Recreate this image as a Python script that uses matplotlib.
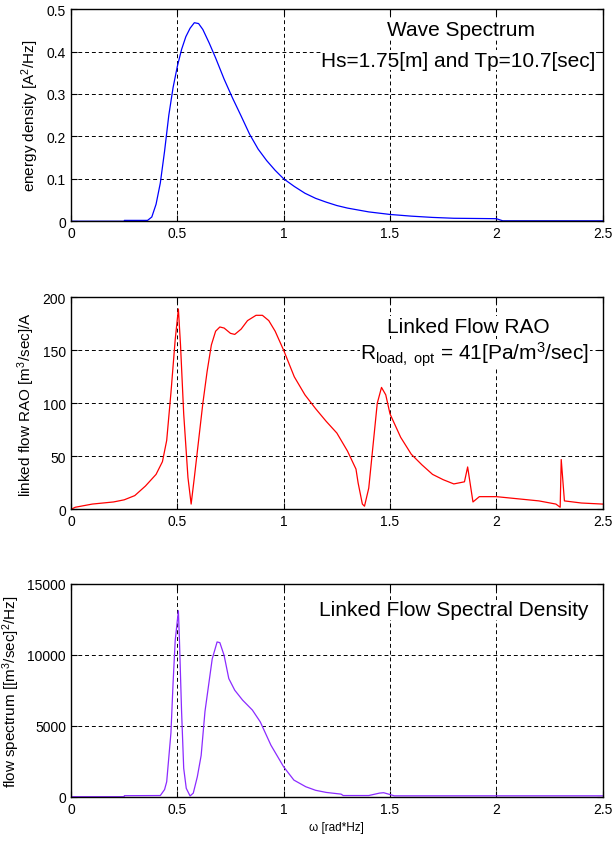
import numpy as np
import matplotlib
matplotlib.use('Agg')
import matplotlib.pyplot as plt

plt.rcParams['font.family'] = ['Liberation Sans', 'DejaVu Sans']
plt.rcParams['mathtext.fontset'] = 'custom'
plt.rcParams['mathtext.rm'] = 'Liberation Sans'
plt.rcParams['mathtext.it'] = 'Liberation Sans:italic'

# --- wave spectrum ---
w_wave = [0.0, 0.25, 0.251, 0.36, 0.38, 0.40, 0.42, 0.44, 0.46, 0.48, 0.50,
          0.52, 0.54, 0.56, 0.58, 0.60, 0.62, 0.65, 0.68, 0.72, 0.76, 0.80, 0.84,
          0.88, 0.92, 0.96, 1.00, 1.05, 1.10, 1.15, 1.20, 1.25, 1.30, 1.40, 1.50,
          1.60, 1.70, 1.80, 1.90, 2.00, 2.03, 2.50]
s_wave = [0.0, 0.0, 0.002, 0.002, 0.01, 0.04, 0.09, 0.165, 0.25, 0.315, 0.365,
          0.405, 0.435, 0.455, 0.468, 0.466, 0.452, 0.42, 0.385, 0.335, 0.29, 0.248, 0.205,
          0.17, 0.143, 0.12, 0.10, 0.082, 0.066, 0.054, 0.045, 0.037, 0.031, 0.022, 0.016,
          0.012, 0.009, 0.007, 0.0065, 0.006, 0.001, 0.001]

# --- linked flow RAO ---
w_rao = [0.0, 0.02, 0.10, 0.20, 0.25, 0.30, 0.35, 0.40, 0.43, 0.45, 0.47, 0.49, 0.505,
         0.515, 0.53, 0.55, 0.565, 0.58, 0.60, 0.62, 0.64, 0.66, 0.68, 0.70, 0.72,
         0.75, 0.77, 0.80, 0.83, 0.87, 0.90, 0.93, 0.96, 1.00, 1.05, 1.10, 1.15,
         1.20, 1.25, 1.30, 1.34, 1.35, 1.37, 1.38, 1.40, 1.42, 1.44, 1.46, 1.48,
         1.50, 1.55, 1.60, 1.65, 1.70, 1.75, 1.80, 1.85, 1.865, 1.89, 1.92, 2.00,
         2.10, 2.20, 2.28, 2.30, 2.305, 2.32, 2.40, 2.50]
raos = [0, 2, 5, 7, 9, 13, 22, 33, 45, 65, 110, 160, 189,
        155, 90, 30, 5, 30, 65, 100, 130, 155, 168, 172, 171,
        166, 165, 170, 178, 183, 183, 178, 168, 150, 125, 108, 95,
        83, 72, 55, 38, 25, 5, 3, 20, 60, 100, 115, 108,
        90, 68, 52, 42, 33, 28, 24, 26, 40, 7, 12, 12,
        10, 8, 5, 2, 47, 8, 6, 5]

# --- linked flow spectral density ---
w_flow = [0.0, 0.25, 0.251, 0.42, 0.44, 0.45, 0.47, 0.48, 0.49, 0.505, 0.51, 0.52,
          0.53, 0.542, 0.56, 0.575, 0.594, 0.612, 0.63, 0.664, 0.687, 0.70, 0.72,
          0.742, 0.77, 0.807, 0.853, 0.89, 0.94, 1.00, 1.048, 1.104, 1.15, 1.20,
          1.27, 1.28, 1.40, 1.45, 1.47, 1.50, 1.52, 2.50]
flow = [0, 0, 70, 80, 500, 1050, 4500, 8000, 11000, 13100, 11000, 6000,
        2000, 590, 50, 250, 1400, 2900, 6000, 9700, 10900, 10850, 9950,
        8320, 7500, 6800, 6100, 5270, 3630, 2100, 1170, 700, 450, 300,
        180, 80, 80, 250, 280, 150, 60, 60]

fig = plt.figure(figsize=(6.14, 8.45), dpi=100)
L, W = 0.1156, 0.866
ax1 = fig.add_axes([L, 0.737, W, 0.251])
ax2 = fig.add_axes([L, 0.396, W, 0.251])
ax3 = fig.add_axes([L, 0.056, W, 0.252])

box = dict(facecolor='white', edgecolor='none', pad=0.5)


def style(ax, ymax, yticks):
    ax.set_xlim(0, 2.5)
    ax.set_ylim(0, ymax)
    ax.set_xticks([0, 0.5, 1, 1.5, 2, 2.5])
    ax.set_xticklabels(['0', '0.5', '1', '1.5', '2', '2.5'])
    ax.set_yticks(yticks)
    ax.grid(True, color='black', linestyle=(0, (4, 3)), linewidth=0.7)
    ax.tick_params(direction='in', top=True, right=True, length=4, labelsize=10)
    for s in ax.spines.values():
        s.set_linewidth(1.0)


ax1.plot(w_wave, s_wave, color='#0000ff', linewidth=0.9)
style(ax1, 0.5, [0, 0.1, 0.2, 0.3, 0.4, 0.5])
ax1.set_yticklabels(['0', '0.1', '0.2', '0.3', '0.4', '0.5'])
ax1.set_ylabel('energy density [A$^{2}$/Hz]', fontsize=11)
ax1.text(1.833, 0.453, 'Wave Spectrum', ha='center', va='center', fontsize=15, bbox=box)
ax1.text(2.467, 0.38, 'Hs=1.75[m] and Tp=10.7[sec]', ha='right', va='center',
         fontsize=15, bbox=box)

ax2.plot(w_rao, raos, color='#ff0000', linewidth=0.9)
style(ax2, 200, [0, 50, 100, 150, 200])
ax2.set_ylabel('linked flow RAO [m$^{3}$/sec]/A', fontsize=11)
ax2.text(1.87, 172.6, 'Linked Flow RAO', ha='center', va='center', fontsize=15, bbox=box)
ax2.text(2.439, 147, r'R$_{\mathrm{load,\ opt}}$ = 41[Pa/m$^{3}$/sec]', ha='right',
         va='center', fontsize=15, bbox=box)

ax3.plot(w_flow, flow, color='#8b2bff', linewidth=0.9)
style(ax3, 15000, [0, 5000, 10000, 15000])
ax3.set_ylabel('flow spectrum [[m$^{3}$/sec]$^{2}$/Hz]', fontsize=11)
ax3.text(2.434, 13170, 'Linked Flow Spectral Density', ha='right', va='center',
         fontsize=15, bbox=box)
ax3.set_xlabel('ω [rad*Hz]', fontsize=8.5)

fig.savefig('out.png', dpi=100)
